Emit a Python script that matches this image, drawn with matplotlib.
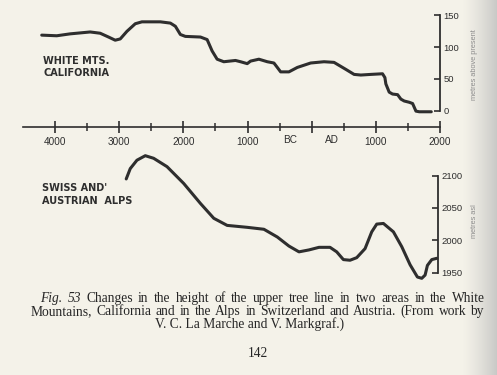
import matplotlib
matplotlib.use('Agg')
import matplotlib.pyplot as plt
import numpy as np

# ---------------- data ----------------
# White Mountains, California: tree line (metres above present) by year (BC negative)
white_years = [-4208, -3974, -3766, -3453, -3297, -3167, -3063, -2984, -2880, -2750,
               -2646, -2359, -2203, -2125, -2047, -1969, -1734, -1630, -1552, -1474,
               -1370, -1188, -1109, -1005, -953, -823, -692, -589, -536, -484,
               -355, -224, -16, 192, 348, 531, 661, 766, 922, 1104,
               1141, 1156, 1208, 1260, 1339, 1390, 1442, 1520, 1573, 1599,
               1625, 1677, 1864]
white_m = [119, 118, 121, 124, 122, 116, 111, 113, 125, 137,
           140, 140, 138, 133, 120, 117, 116, 112, 94, 81,
           77, 79, 77, 74, 78, 81, 77, 75, 68, 61,
           61, 68, 75, 77, 76, 65, 57, 56, 57, 58,
           52, 42, 29, 26, 25, 18, 15, 13, 11, 5,
           -1, -2, -2]

# Swiss and Austrian Alps: tree line (metres asl)
alps_years = [-2891, -2828, -2724, -2594, -2464, -2255, -1995, -1734, -1526, -1318,
              -1005, -745, -536, -355, -198, -42, 114, 286, 390, 494,
              598, 702, 832, 936, 1014, 1118, 1274, 1404, 1534, 1648,
              1716, 1768, 1804, 1872, 1950]
alps_m = [2095, 2111, 2124, 2131, 2127, 2114, 2088, 2057, 2034, 2023,
          2020, 2017, 2005, 1991, 1982, 1985, 1989, 1989, 1982, 1970,
          1969, 1973, 1987, 2013, 2025, 2026, 2013, 1990, 1962, 1943,
          1941, 1946, 1961, 1970, 1972]

time_major = [-4000, -3000, -2000, -1000, 0, 1000, 2000]
time_major_labels = ['4000', '3000', '2000', '1000', '', '1000', '2000']
time_minor = [-3500, -2500, -1500, -500, 500, 1500]
era_labels = ['BC', 'AD']
era_pos = [-330, 320]
white_ticks = [0, 50, 100, 150]
alps_ticks = [1950, 2000, 2050, 2100]

caption1 = "Fig. 53 Changes in the height of the upper tree line in two areas in the White"
caption2 = "Mountains, California and in the Alps in Switzerland and Austria. (From work by"
caption3 = "V. C. La Marche and V. Markgraf.)"
page_no = "142"

# ---------------- figure ----------------
W, H = 497, 375
fig = plt.figure(figsize=(W / 100, H / 100), dpi=100)
bg = np.array([244, 242, 233]) / 255
fig.patch.set_facecolor(bg)

# page background with grey shading at the right edge (page curvature)
bax = fig.add_axes([0, 0, 1, 1], zorder=-5)
xs = np.arange(W)
shade = np.clip((xs - 462) / 35.0, 0, 1) ** 1.3
grey = np.array([200, 200, 198]) / 255
row = bg[None, :] * (1 - shade[:, None]) + grey[None, :] * shade[:, None]
img = np.repeat(row[None, :, :], H, axis=0)
bax.imshow(img, aspect='auto', extent=[0, W, H, 0])
bax.set_axis_off()

ink = '#2e2e2e'
sans = 'Liberation Sans'


def ax_px(x0, y0, x1, y1):
    return fig.add_axes([x0 / W, 1 - y1 / H, (x1 - x0) / W, (y1 - y0) / H])


def style_right(ax):
    for s in ['left', 'top', 'bottom']:
        ax.spines[s].set_visible(False)
    ax.spines['right'].set_color(ink)
    ax.spines['right'].set_linewidth(1.3)
    ax.patch.set_alpha(0)
    ax.yaxis.tick_right()
    ax.tick_params(axis='y', direction='in', length=4.5, width=1.2, pad=2.5,
                   labelsize=6.8, colors=ink, labelcolor=ink)
    ax.set_xticks([])
    for lab in ax.get_yticklabels():
        lab.set_family(sans)


# top panel
ax1 = ax_px(23, 15.5, 440, 110.5)
ax1.plot(white_years, white_m, color=ink, lw=2.2, solid_joinstyle='round',
         solid_capstyle='round', clip_on=False)
ax1.set_xlim(-4500, 2000)
ax1.set_ylim(0, 150)
ax1.set_yticks(white_ticks)
style_right(ax1)

# time axis
axt = ax_px(23, 100, 440, 127)
axt.set_xlim(-4500, 2000)
for s in ['left', 'top', 'right']:
    axt.spines[s].set_visible(False)
axt.spines['bottom'].set_color(ink)
axt.spines['bottom'].set_linewidth(1.2)
axt.patch.set_alpha(0)
axt.set_yticks([])
axt.set_xticks(time_major)
axt.set_xticklabels(time_major_labels)
axt.set_xticks(time_minor, minor=True)
axt.tick_params(axis='x', which='major', direction='inout', length=9, width=1.2,
                pad=2.5, labelsize=7.2, colors=ink)
axt.tick_params(axis='x', which='minor', direction='inout', length=6, width=1.1,
                colors=ink)
for lab in axt.get_xticklabels():
    lab.set_family(sans)
for lbl, p in zip(era_labels, era_pos):
    axt.annotate(lbl, xy=(p, 0), xycoords=('data', 'axes fraction'),
                 xytext=(0, -8.3 * 0.72), textcoords='offset points',
                 ha='center', va='top', fontsize=7.2, family=sans, color=ink)

# bottom panel
ax2 = ax_px(23, 175.7, 438, 272.5)
ax2.plot(alps_years, alps_m, color=ink, lw=2.2, solid_joinstyle='round',
         solid_capstyle='round', clip_on=False)
ax2.set_xlim(-4500, 1969)
ax2.set_ylim(1950, 2100)
ax2.set_yticks(alps_ticks)
style_right(ax2)


# panel titles
def ftext(x, y, s, **kw):
    return fig.text(x / W, 1 - y / H, s, **kw)


tkw = dict(fontsize=7, fontweight='bold', family='DejaVu Sans', color=ink,
           va='center', ha='left')
ftext(43, 61, 'WHITE MTS.', **tkw)
ftext(43, 73, 'CALIFORNIA', **tkw)
ftext(42, 188, "SWISS AND'", **tkw)
ftext(42, 201, 'AUSTRIAN  ALPS', **tkw)

# vertical axis titles
ftext(475, 65, 'metres above present', rotation=90, fontsize=5.3, family=sans,
      color='#8c8c8c', ha='center', va='center')
ftext(474, 221, 'metres asl', rotation=90, fontsize=5.3, family=sans,
      color='#8c8c8c', ha='center', va='center')

# caption (justified lines)
serif = 'Liberation Serif'
cap_col = '#262626'
fig.canvas.draw()
r = fig.canvas.get_renderer()


def natural_width(s, size, style='normal'):
    t = fig.text(0, 0, s, fontsize=size, family=serif, style=style)
    w = t.get_window_extent(r).width
    t.remove()
    return w


base = 9.0
nat2 = natural_width(caption2, base)
size = min(10.0, base * 442 / nat2)


def justify(words, styles, x0, x1, y, size):
    objs = []
    for wd, st in zip(words, styles):
        t = ftext(x0, y, wd, fontsize=size, family=serif, style=st, color=cap_col,
                  ha='left', va='baseline')
        objs.append(t)
    fig.canvas.draw()
    ws = [o.get_window_extent(r).width for o in objs]
    gap = (x1 - x0 - sum(ws)) / (len(ws) - 1)
    x = x0
    for o, w in zip(objs, ws):
        o.set_x(x / W)
        x += w + gap


w1 = caption1.split(' ')
justify(w1, ['italic', 'italic'] + ['normal'] * (len(w1) - 2), 40, 485, 302, size)
w2 = caption2.split(' ')
justify(w2, ['normal'] * len(w2), 30.5, 484, 315, size)
ftext(250, 328, caption3, fontsize=size, family=serif, color=cap_col,
      ha='center', va='baseline')
ftext(258, 357, page_no, fontsize=size, family=serif, color=cap_col,
      ha='center', va='baseline')

fig.savefig('out.png', dpi=100, facecolor=fig.get_facecolor())
